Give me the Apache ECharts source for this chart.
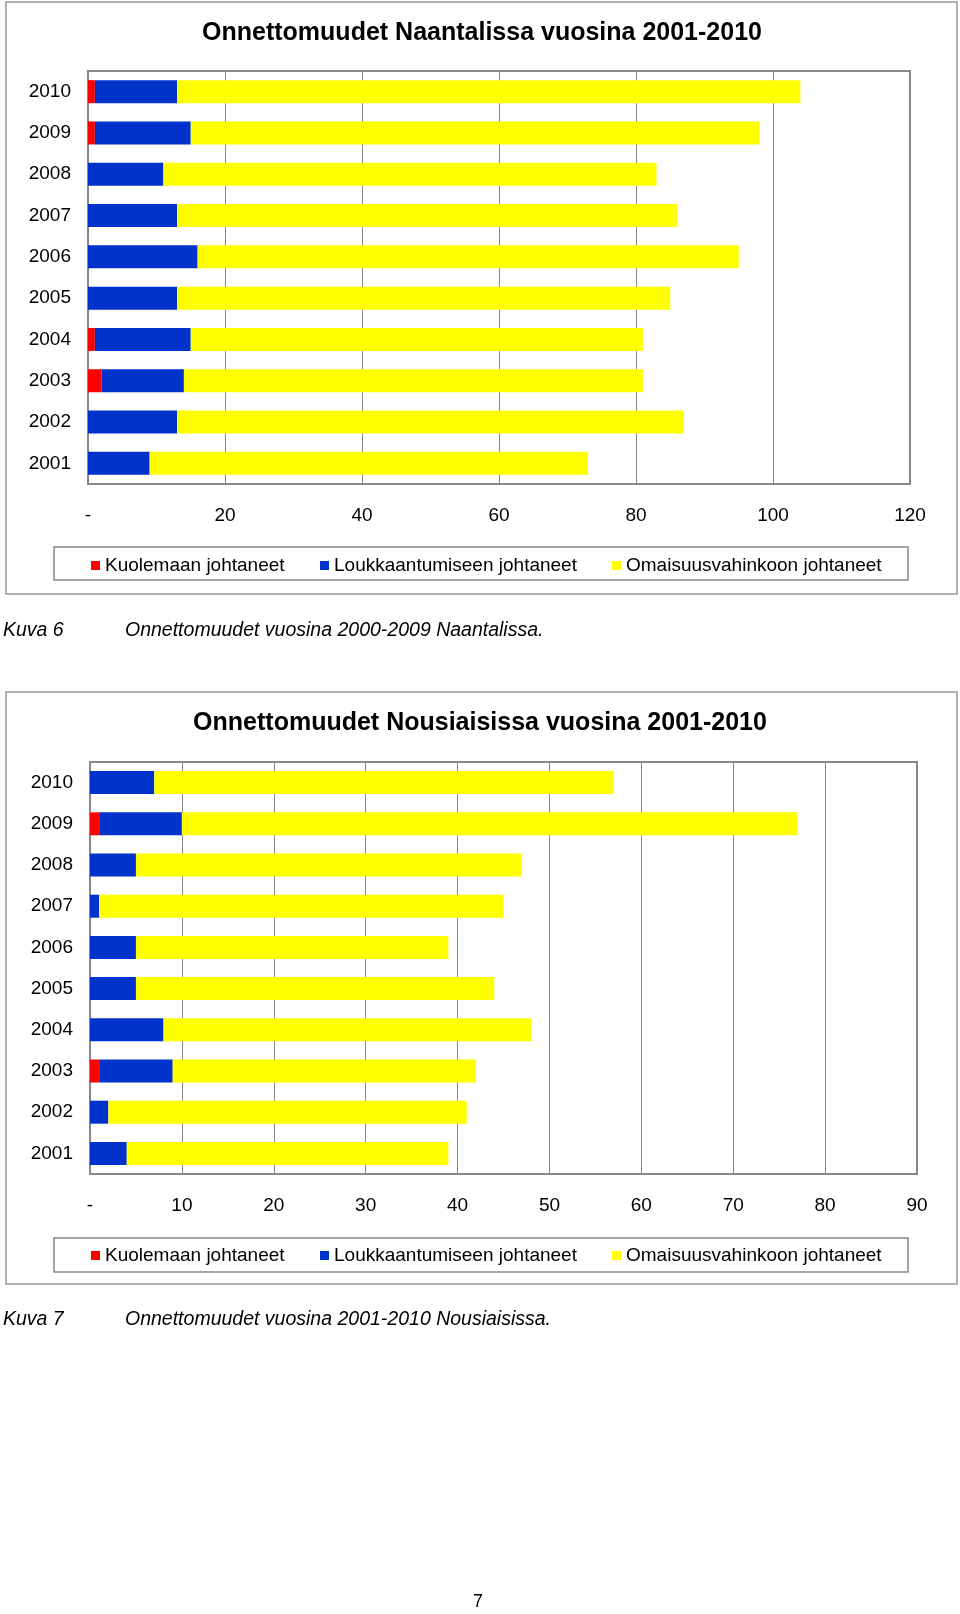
<!DOCTYPE html>
<html>
<head>
<meta charset="utf-8">
<script src="https://cdn.jsdelivr.net/npm/echarts@6/dist/echarts.min.js"></script>
<style>
html,body{margin:0;padding:0;background:#fff;}
#c{width:960px;height:1614px;}
</style>
</head>
<body>
<div id="c"></div>
<script>
// ---- data ----
const years = ['2001','2002','2003','2004','2005','2006','2007','2008','2009','2010'];
const seriesNames = ['Kuolemaan johtaneet','Loukkaantumiseen johtaneet','Omaisuusvahinkoon johtaneet'];

// Naantali (2001..2010)
const naantaliDeaths   = [0, 0, 2, 1, 0, 0, 0, 0, 1, 1];
const naantaliInjuries = [9, 13, 12, 14, 13, 16, 13, 11, 14, 12];
const naantaliProperty = [64, 74, 67, 66, 72, 79, 73, 72, 83, 91];

// Nousiainen (2001..2010)
const nousDeaths   = [0, 0, 1, 0, 0, 0, 0, 0, 1, 0];
const nousInjuries = [4, 2, 8, 8, 5, 5, 1, 5, 9, 7];
const nousProperty = [35, 39, 33, 40, 39, 34, 44, 42, 67, 50];

const title1 = 'Onnettomuudet Naantalissa vuosina 2001-2010';
const title2 = 'Onnettomuudet Nousiaisissa vuosina 2001-2010';
const caption1Label = 'Kuva 6';
const caption1Text = 'Onnettomuudet vuosina 2000-2009 Naantalissa.';
const caption2Label = 'Kuva 7';
const caption2Text = 'Onnettomuudet vuosina 2001-2010 Nousiaisissa.';
const pageNumber = '7';

// ---- styles ----
const colors = ['#FF0000', '#0033CC', '#FFFF00'];
const FONT = 'Liberation Sans, Arial, Helvetica, sans-serif';

const chart = echarts.init(document.getElementById('c'), null, {renderer: 'canvas'});

function xAxisCfg(gridIndex, max, interval) {
  return {
    type: 'value', gridIndex, min: 0, max, interval,
    axisLine: {show: false}, axisTick: {show: false},
    splitLine: {show: true, lineStyle: {color: '#888', width: 1}},
    axisLabel: {
      color: '#000', fontSize: 19, fontFamily: FONT, margin: 22,
      formatter: v => (v === 0 ? '-' : String(v))
    }
  };
}
function yAxisCfg(gridIndex) {
  return {
    type: 'category', gridIndex, data: years,
    axisLine: {show: false}, axisTick: {show: false},
    axisLabel: {color: '#000', fontSize: 19, fontFamily: FONT, margin: 17}
  };
}
function barSeries(idx, name, data, stack) {
  return {
    type: 'bar', name, data, stack,
    xAxisIndex: idx, yAxisIndex: idx,
    barWidth: 23,
    itemStyle: {color: colors[seriesNames.indexOf(name)]},
    emphasis: {disabled: true}
  };
}
function legendCfg(name, left, top) {
  return {
    data: [name], left, top, padding: 0,
    icon: 'rect', itemWidth: 9, itemHeight: 9,
    selectedMode: false,
    textStyle: {color: '#000', fontSize: 19, fontFamily: FONT}
  };
}

const legendXs = [91, 320, 612];

const option = {
  animation: false,
  backgroundColor: '#fff',
  grid: [
    {left: 88, top: 71, width: 822, height: 413, show: true, borderColor: '#888', borderWidth: 2, backgroundColor: 'transparent'},
    {left: 90, top: 762, width: 827, height: 412, show: true, borderColor: '#888', borderWidth: 2, backgroundColor: 'transparent'}
  ],
  xAxis: [xAxisCfg(0, 120, 20), xAxisCfg(1, 90, 10)],
  yAxis: [yAxisCfg(0), yAxisCfg(1)],
  legend: [
    legendCfg(seriesNames[0], legendXs[0], 556),
    legendCfg(seriesNames[1], legendXs[1], 556),
    legendCfg(seriesNames[2], legendXs[2], 556),
    legendCfg(seriesNames[0], legendXs[0], 1246),
    legendCfg(seriesNames[1], legendXs[1], 1246),
    legendCfg(seriesNames[2], legendXs[2], 1246)
  ],
  series: [
    barSeries(0, seriesNames[0], naantaliDeaths, 'a'),
    barSeries(0, seriesNames[1], naantaliInjuries, 'a'),
    barSeries(0, seriesNames[2], naantaliProperty, 'a'),
    barSeries(1, seriesNames[0], nousDeaths, 'b'),
    barSeries(1, seriesNames[1], nousInjuries, 'b'),
    barSeries(1, seriesNames[2], nousProperty, 'b')
  ],
  graphic: [
    // outer frames
    {type: 'rect', shape: {x: 6, y: 2, width: 951, height: 592}, style: {fill: 'none', stroke: '#999', lineWidth: 1.5}, z: -1},
    {type: 'rect', shape: {x: 6, y: 692, width: 951, height: 592}, style: {fill: 'none', stroke: '#999', lineWidth: 1.5}, z: -1},
    // legend frames
    {type: 'rect', shape: {x: 54, y: 547, width: 854, height: 33}, style: {fill: 'none', stroke: '#888', lineWidth: 1.5}, z: -1},
    {type: 'rect', shape: {x: 54, y: 1238, width: 854, height: 34}, style: {fill: 'none', stroke: '#888', lineWidth: 1.5}, z: -1},
    // titles
    {type: 'text', x: 482, y: 33, style: {text: title1, fill: '#000', font: 'bold 25px ' + FONT, textAlign: 'center', textVerticalAlign: 'middle'}},
    {type: 'text', x: 480, y: 723, style: {text: title2, fill: '#000', font: 'bold 25px ' + FONT, textAlign: 'center', textVerticalAlign: 'middle'}},
    // captions
    {type: 'text', x: 3, y: 631, style: {text: caption1Label, fill: '#000', font: 'italic 19.5px ' + FONT, textVerticalAlign: 'middle'}},
    {type: 'text', x: 125, y: 631, style: {text: caption1Text, fill: '#000', font: 'italic 19.5px ' + FONT, textVerticalAlign: 'middle'}},
    {type: 'text', x: 3, y: 1320, style: {text: caption2Label, fill: '#000', font: 'italic 19.5px ' + FONT, textVerticalAlign: 'middle'}},
    {type: 'text', x: 125, y: 1320, style: {text: caption2Text, fill: '#000', font: 'italic 19.5px ' + FONT, textVerticalAlign: 'middle'}},
    // page number
    {type: 'text', x: 478, y: 1602, style: {text: pageNumber, fill: '#000', font: '18px ' + FONT, textAlign: 'center', textVerticalAlign: 'middle'}}
  ]
};
chart.setOption(option);
</script>
</body>
</html>
